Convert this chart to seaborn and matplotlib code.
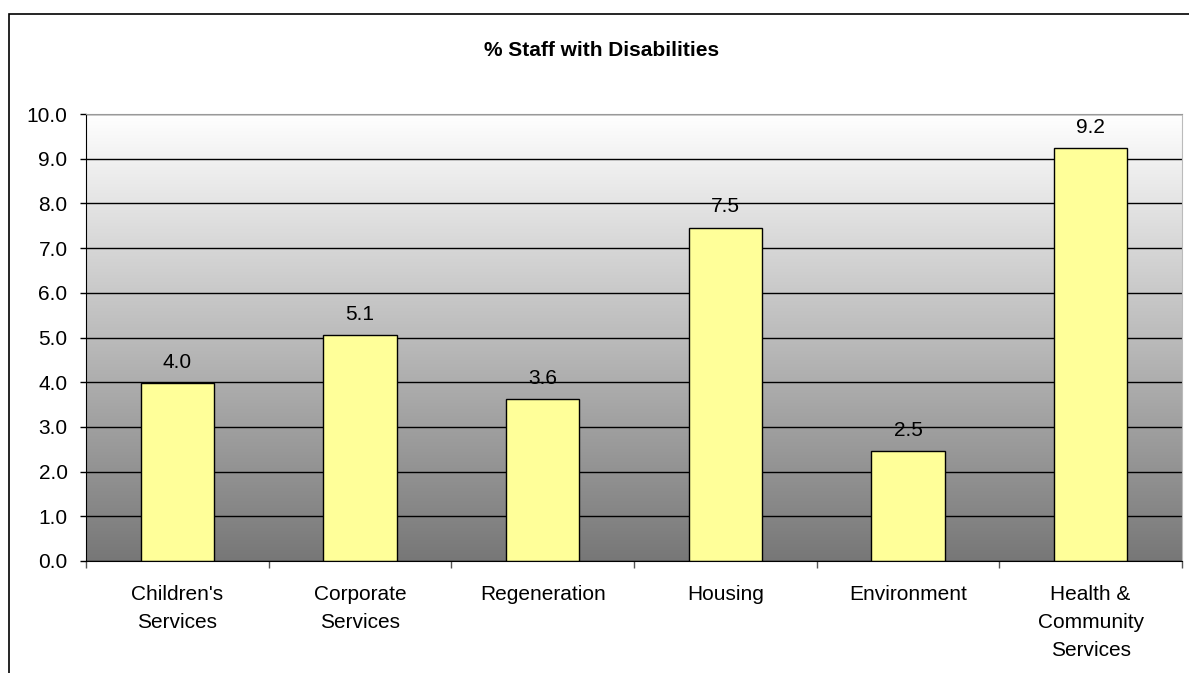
import numpy as np
import matplotlib
matplotlib.use("Agg")
import matplotlib.pyplot as plt
from matplotlib.colors import LinearSegmentedColormap
from matplotlib.patches import Rectangle
import seaborn as sns

sns.set_style("white")
plt.rcParams['font.family'] = ['Liberation Sans', 'DejaVu Sans']
plt.rcParams['text.color'] = 'black'
plt.rcParams['xtick.color'] = 'black'
plt.rcParams['ytick.color'] = 'black'

# data
categories = ["Children's\nServices", "Corporate\nServices", "Regeneration",
              "Housing", "Environment", "Health &\nCommunity\nServices"]
values = [3.99, 5.06, 3.62, 7.46, 2.46, 9.24]
yticks = [0, 1, 2, 3, 4, 5, 6, 7, 8, 9, 10]

fig = plt.figure(figsize=(11.89, 6.73), dpi=100)
ax = fig.add_axes([86 / 1189, 1 - 561 / 673, (1182 - 86) / 1189, (561 - 114) / 673])

# grey gradient background, light at the top
cmap = LinearSegmentedColormap.from_list("bg", ["#FFFFFF", "#777777"])
ax.imshow(np.linspace(0, 1, 256).reshape(-1, 1), cmap=cmap, aspect='auto',
          extent=[-0.5, 5.5, 0, 10], zorder=0)

sns.barplot(x=categories, y=values, color="#FFFF99", edgecolor="black",
            linewidth=1, width=0.4, saturation=1, ax=ax, zorder=2)
ax.bar_label(ax.containers[0], fmt="%.1f", padding=8, fontsize=15, color='black')

ax.set_xlim(-0.5, 5.5)
ax.set_ylim(0, 10)
ax.set_yticks(yticks)
ax.set_yticklabels([f"{v:.1f}" for v in yticks], fontsize=15)
ax.set_axisbelow(True)
ax.yaxis.grid(True, color="black", linewidth=1)
ax.xaxis.grid(False)

# tick marks between categories, labels centred
ax.set_xticks(np.arange(-0.5, 6, 1), minor=True)
ax.tick_params(axis='x', which='major', length=0, pad=17, labelsize=15)
ax.tick_params(axis='x', which='minor', length=5, width=1, color="#555555", bottom=True)
ax.tick_params(axis='y', length=4.3, width=1, color="black", left=True, pad=9)
for lab in ax.get_xticklabels():
    lab.set_linespacing(1.6)
    lab.set_va('top')

ax.spines['left'].set_color("black")
ax.spines['bottom'].set_color("black")
ax.spines['top'].set_color("#999999")
ax.spines['right'].set_color("#BBBBBB")
ax.set_xlabel("")
ax.set_ylabel("")

fig.text(602 / 1189, 1 - 50 / 673, "% Staff with Disabilities", ha='center', va='center',
         fontsize=15, fontweight='bold')

# chart area border (cut off at right and bottom)
fig.add_artist(Rectangle((9 / 1189, -0.1), 1.2, 1.1 - 14 / 673, transform=fig.transFigure,
                         fill=False, edgecolor="black", linewidth=1.2))

fig.savefig("out.png", dpi=100)
